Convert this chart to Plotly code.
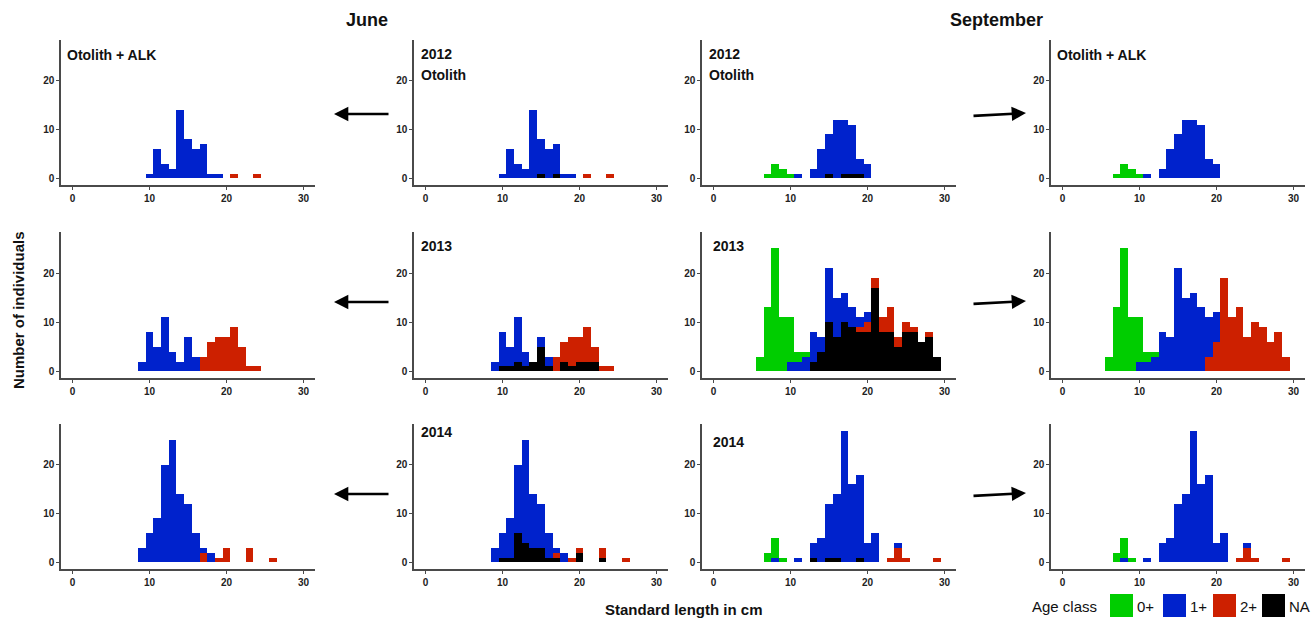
import plotly.graph_objects as go

# ---------------- data ----------------
LENGTH_BINS = [6, 7, 8, 9, 10, 11, 12, 13, 14, 15, 16, 17, 18, 19, 20, 21, 22, 23, 24, 25, 26, 27, 28, 29]
X_TICKS = [0, 10, 20, 30]
Y_TICKS = [0, 10, 20]
AGE_CLASSES = ["NA", "2+", "1+", "0+"]          # bottom -> top in each stack
LEGEND_ORDER = ["0+", "1+", "2+", "NA"]
COLUMN_TITLES = ["June", "September"]
YEARS = ["2012", "2013", "2014"]

#                  6  7  8  9 10 11 12 13 14 15 16 17 18 19 20 21 22 23 24 25 26 27 28 29
JUN12_ALK_1P  = [0, 0, 0, 0, 1, 6, 3, 2,14, 8, 6, 7, 1, 1, 0, 0, 0, 0, 0, 0, 0, 0, 0, 0]
JUN12_ALK_2P  = [0, 0, 0, 0, 0, 0, 0, 0, 0, 0, 0, 0, 0, 0, 0, 1, 0, 0, 1, 0, 0, 0, 0, 0]
JUN12_OTO_1P  = [0, 0, 0, 0, 1, 6, 3, 2,14, 7, 6, 6, 1, 1, 0, 0, 0, 0, 0, 0, 0, 0, 0, 0]
JUN12_OTO_2P  = [0, 0, 0, 0, 0, 0, 0, 0, 0, 0, 0, 0, 0, 0, 0, 1, 0, 0, 1, 0, 0, 0, 0, 0]
JUN12_OTO_NA  = [0, 0, 0, 0, 0, 0, 0, 0, 0, 1, 0, 1, 0, 0, 0, 0, 0, 0, 0, 0, 0, 0, 0, 0]

SEP12_OTO_0P  = [0, 1, 3, 2, 1, 0, 0, 0, 0, 0, 0, 0, 0, 0, 0, 0, 0, 0, 0, 0, 0, 0, 0, 0]
SEP12_OTO_1P  = [0, 0, 0, 0, 0, 1, 0, 2, 6, 8,12,11,10, 3, 3, 0, 0, 0, 0, 0, 0, 0, 0, 0]
SEP12_OTO_NA  = [0, 0, 0, 0, 0, 0, 0, 0, 0, 1, 0, 1, 1, 1, 0, 0, 0, 0, 0, 0, 0, 0, 0, 0]
SEP12_ALK_0P  = [0, 1, 3, 2, 1, 0, 0, 0, 0, 0, 0, 0, 0, 0, 0, 0, 0, 0, 0, 0, 0, 0, 0, 0]
SEP12_ALK_1P  = [0, 0, 0, 0, 0, 1, 0, 2, 6, 9,12,12,11, 4, 3, 0, 0, 0, 0, 0, 0, 0, 0, 0]

JUN13_ALK_1P  = [0, 0, 0, 2, 8, 5,11, 4, 2, 7, 3, 0, 0, 0, 0, 0, 0, 0, 0, 0, 0, 0, 0, 0]
JUN13_ALK_2P  = [0, 0, 0, 0, 0, 0, 0, 0, 0, 0, 0, 3, 6, 7, 7, 9, 5, 1, 1, 0, 0, 0, 0, 0]
JUN13_OTO_1P  = [0, 0, 0, 2, 7, 4, 9, 3, 0, 2, 2, 0, 0, 0, 0, 0, 0, 0, 0, 0, 0, 0, 0, 0]
JUN13_OTO_2P  = [0, 0, 0, 0, 0, 0, 0, 0, 0, 0, 0, 3, 4, 6, 5, 7, 3, 1, 1, 0, 0, 0, 0, 0]
JUN13_OTO_NA  = [0, 0, 0, 0, 1, 1, 2, 1, 2, 5, 1, 0, 2, 1, 2, 2, 2, 0, 0, 0, 0, 0, 0, 0]

SEP13_OTO_0P  = [3,13,25,11, 9, 2, 1, 0, 0, 0, 0, 0, 0, 0, 0, 0, 0, 0, 0, 0, 0, 0, 0, 0]
SEP13_OTO_1P  = [0, 0, 0, 0, 2, 2, 3, 6, 3,11, 8, 6, 4, 2, 2, 0, 0, 0, 0, 0, 0, 0, 0, 0]
SEP13_OTO_2P  = [0, 0, 0, 0, 0, 0, 0, 0, 0, 0, 0, 0, 0, 1, 2, 2, 3, 5, 2, 2, 1, 0, 1, 0]
SEP13_OTO_NA  = [0, 0, 0, 0, 0, 0, 0, 2, 4,10, 7,10, 9, 8, 8,17, 8, 8, 5, 8, 8, 6, 7, 3]
SEP13_ALK_0P  = [3,13,25,11, 9, 2, 1, 0, 0, 0, 0, 0, 0, 0, 0, 0, 0, 0, 0, 0, 0, 0, 0, 0]
SEP13_ALK_1P  = [0, 0, 0, 0, 2, 2, 3, 8, 7,21,15,16,13, 8, 6, 0, 0, 0, 0, 0, 0, 0, 0, 0]
SEP13_ALK_2P  = [0, 0, 0, 0, 0, 0, 0, 0, 0, 0, 0, 0, 0, 3, 6,19,11,13, 7,10, 9, 6, 8, 3]

JUN14_ALK_1P  = [0, 0, 0, 3, 6, 9,20,25,14,12, 6, 1, 2, 0, 0, 0, 0, 0, 0, 0, 0, 0, 0, 0]
JUN14_ALK_2P  = [0, 0, 0, 0, 0, 0, 0, 0, 0, 0, 0, 2, 0, 1, 3, 0, 0, 3, 0, 0, 1, 0, 0, 0]
JUN14_OTO_1P  = [0, 0, 0, 3, 5, 8,14,21,11, 9, 5, 1, 2, 0, 0, 0, 0, 0, 0, 0, 0, 0, 0, 0]
JUN14_OTO_2P  = [0, 0, 0, 0, 0, 0, 0, 0, 0, 0, 0, 1, 0, 1, 1, 0, 0, 2, 0, 0, 1, 0, 0, 0]
JUN14_OTO_NA  = [0, 0, 0, 0, 1, 1, 6, 4, 3, 3, 1, 1, 0, 0, 2, 0, 0, 1, 0, 0, 0, 0, 0, 0]

SEP14_OTO_0P  = [0, 2, 4, 1, 0, 0, 0, 0, 0, 0, 0, 0, 0, 0, 0, 0, 0, 0, 0, 0, 0, 0, 0, 0]
SEP14_OTO_1P  = [0, 0, 1, 0, 0, 1, 0, 3, 5,11,13,27,16,17, 4, 6, 0, 0, 1, 0, 0, 0, 0, 0]
SEP14_OTO_2P  = [0, 0, 0, 0, 0, 0, 0, 0, 0, 0, 0, 0, 0, 0, 0, 0, 0, 1, 3, 1, 0, 0, 0, 1]
SEP14_OTO_NA  = [0, 0, 0, 0, 0, 0, 0, 1, 0, 1, 1, 0, 0, 1, 0, 0, 0, 0, 0, 0, 0, 0, 0, 0]
SEP14_ALK_0P  = [0, 2, 4, 1, 0, 0, 0, 0, 0, 0, 0, 0, 0, 0, 0, 0, 0, 0, 0, 0, 0, 0, 0, 0]
SEP14_ALK_1P  = [0, 0, 1, 0, 0, 1, 0, 4, 5,12,14,27,16,18, 4, 6, 0, 0, 1, 0, 0, 0, 0, 0]
SEP14_ALK_2P  = [0, 0, 0, 0, 0, 0, 0, 0, 0, 0, 0, 0, 0, 0, 0, 0, 0, 1, 3, 1, 0, 0, 0, 1]

# ---------------- styling ----------------
W, H = 1311, 621
FONT = "Liberation Sans, Arial, sans-serif"
COLORS = {"0+": "#00CD00", "1+": "#0022CC", "2+": "#CD2000", "NA": "#000000"}
AXIS_COLOR = "#4a4a4a"

COL_PX = [(61, 315), (414, 668), (702, 956), (1051, 1305)]
ROW_PX = [(40, 185), (232, 378), (424, 569)]


def px_x(p):
    return p / W


def px_y(p):
    return 1 - p / H


# panels: (row, col, {class: counts})
PANELS = [
    (0, 0, {"2+": JUN12_ALK_2P, "1+": JUN12_ALK_1P}),
    (0, 1, {"NA": JUN12_OTO_NA, "2+": JUN12_OTO_2P, "1+": JUN12_OTO_1P}),
    (0, 2, {"NA": SEP12_OTO_NA, "1+": SEP12_OTO_1P, "0+": SEP12_OTO_0P}),
    (0, 3, {"1+": SEP12_ALK_1P, "0+": SEP12_ALK_0P}),
    (1, 0, {"2+": JUN13_ALK_2P, "1+": JUN13_ALK_1P}),
    (1, 1, {"NA": JUN13_OTO_NA, "2+": JUN13_OTO_2P, "1+": JUN13_OTO_1P}),
    (1, 2, {"NA": SEP13_OTO_NA, "2+": SEP13_OTO_2P, "1+": SEP13_OTO_1P, "0+": SEP13_OTO_0P}),
    (1, 3, {"2+": SEP13_ALK_2P, "1+": SEP13_ALK_1P, "0+": SEP13_ALK_0P}),
    (2, 0, {"2+": JUN14_ALK_2P, "1+": JUN14_ALK_1P}),
    (2, 1, {"NA": JUN14_OTO_NA, "2+": JUN14_OTO_2P, "1+": JUN14_OTO_1P}),
    (2, 2, {"NA": SEP14_OTO_NA, "2+": SEP14_OTO_2P, "1+": SEP14_OTO_1P, "0+": SEP14_OTO_0P}),
    (2, 3, {"2+": SEP14_ALK_2P, "1+": SEP14_ALK_1P, "0+": SEP14_ALK_0P}),
]

fig = go.Figure()
layout = dict(
    width=W, height=H, margin=dict(l=0, r=0, t=0, b=0),
    paper_bgcolor="white", plot_bgcolor="white",
    barmode="stack", bargap=0, showlegend=False,
    font=dict(family=FONT, color="#111"),
)

tickfont = dict(family=FONT, size=10, color="#222", weight="bold")

for i, (r, c, data) in enumerate(PANELS):
    n = i + 1
    xa = "x" if n == 1 else f"x{n}"
    ya = "y" if n == 1 else f"y{n}"
    for cls in AGE_CLASSES:
        if cls not in data:
            continue
        xs = [b for b, v in zip(LENGTH_BINS, data[cls]) if v > 0]
        ys = [v for v in data[cls] if v > 0]
        fig.add_trace(go.Bar(
            x=xs, y=ys, width=1, name=cls, xaxis=xa, yaxis=ya,
            marker=dict(color=COLORS[cls], line=dict(width=0)),
            offsetgroup=str(n),
        ))
    x0, x1 = COL_PX[c]
    y0, y1 = ROW_PX[r]
    layout["xaxis" if n == 1 else f"xaxis{n}"] = dict(
        domain=[px_x(x0), px_x(x1)], anchor=ya, range=[-1.5, 31.5],
        tickvals=X_TICKS, ticks="outside", ticklen=3, tickwidth=1.2,
        tickcolor=AXIS_COLOR, showline=True, linecolor=AXIS_COLOR, linewidth=1.5,
        showgrid=False, zeroline=False, tickfont=tickfont,
    )
    layout["yaxis" if n == 1 else f"yaxis{n}"] = dict(
        domain=[px_y(y1), px_y(y0)], anchor=xa, range=[-1.35, 28.35],
        tickvals=Y_TICKS, ticks="outside", ticklen=3, tickwidth=1.2,
        tickcolor=AXIS_COLOR, showline=True, linecolor=AXIS_COLOR, linewidth=1.5,
        showgrid=False, zeroline=False, tickfont=tickfont,
    )

annotations = []


def txt(text, x, y, size=14, bold=True, xanchor="left", yanchor="middle", angle=0):
    annotations.append(dict(
        text=text, x=px_x(x), y=px_y(y), xref="paper", yref="paper",
        showarrow=False, xanchor=xanchor, yanchor=yanchor, textangle=angle,
        font=dict(family=FONT, size=size, color="#111", weight="bold" if bold else "normal"),
    ))


# column headers
txt(COLUMN_TITLES[0], 367, 20, size=18, xanchor="center")
txt(COLUMN_TITLES[1], 996, 20, size=18, xanchor="center")

# panel labels
txt("Otolith + ALK", 65, 55)
txt("Otolith + ALK", 1055, 55)
txt(YEARS[0], 419, 54)
txt("Otolith", 419, 75)
txt(YEARS[0], 707, 54)
txt("Otolith", 707, 75)
txt(YEARS[1], 419, 246)
txt(YEARS[1], 711, 246)
txt(YEARS[2], 419, 432)
txt(YEARS[2], 711, 442)

# axis titles
txt("Number of individuals", 18, 310, size=15, xanchor="center", angle=-90)
txt("Standard length in cm", 684, 609, size=15, xanchor="center")

# arrows
for yrow in [114, 302, 494]:
    annotations.append(dict(
        x=px_x(334), y=px_y(yrow), ax=56, ay=0, xref="paper", yref="paper",
        text="", showarrow=True, arrowhead=2, arrowsize=1.1, arrowwidth=2.6,
        arrowcolor="#000",
    ))
    annotations.append(dict(
        x=px_x(1026), y=px_y(yrow - 1), ax=-54, ay=3, xref="paper", yref="paper",
        text="", showarrow=True, arrowhead=2, arrowsize=1.1, arrowwidth=2.6,
        arrowcolor="#000",
    ))

# legend (drawn manually)
shapes = []
txt("Age class", 1030, 606, size=15, bold=False)
legend_x = {"0+": 1110, "1+": 1163, "2+": 1213, "NA": 1262}
for cls in LEGEND_ORDER:
    lx = legend_x[cls]
    shapes.append(dict(
        type="rect", xref="paper", yref="paper",
        x0=px_x(lx), x1=px_x(lx + 23), y0=px_y(617), y1=px_y(594),
        fillcolor=COLORS[cls], line=dict(width=0),
    ))
    txt(cls, lx + 25, 606, size=15, bold=False)

layout["annotations"] = annotations
layout["shapes"] = shapes
fig.update_layout(**layout)
fig.write_html(
    "out.html",
    config={"displayModeBar": False},
    post_script="document.body.style.margin='0';document.body.style.overflow='hidden';",
)
